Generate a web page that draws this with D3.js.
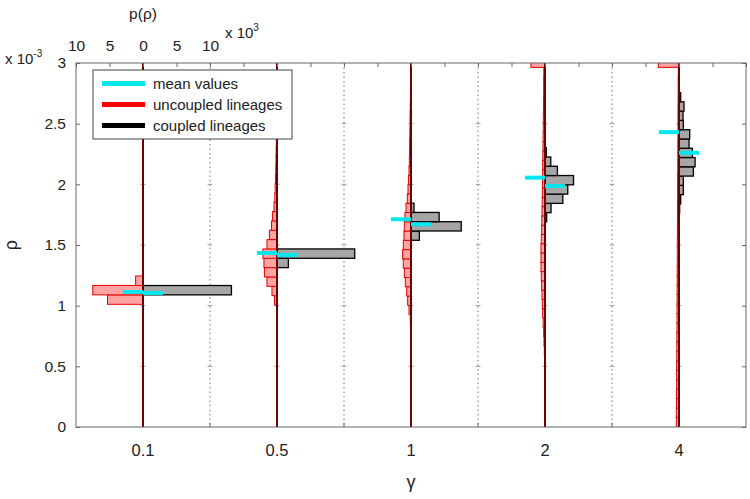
<!DOCTYPE html>
<html>
<head>
<meta charset="utf-8">
<script src="https://cdn.jsdelivr.net/npm/d3@7"></script>
<style>
  body { margin: 0; background: #fff; }
  svg text { font-family: "Liberation Sans", Arial, sans-serif; }
</style>
</head>
<body>
<svg width="750" height="499"></svg>
<script>
// categories on the x axis (gamma)
const categories = ["0.1", "0.5", "1", "2", "4"];
const yTicks = [0, 0.5, 1, 1.5, 2, 2.5, 3];   // rho, x 10^-3
const pTicks = [-10, -5, 0, 5, 10];           // p(rho), x 10^3

// uncoupled lineages (red, drawn to the left), bins in rho x10^-3, counts x10^3
const uncoupledStart = [1.011, 1.0055, 0.85, 0.516, 0.0];
const uncoupledWidth = [0.078, 0.077, 0.0765, 0.0765, 0.078];
const uncoupledCounts = [
  [5.3, 7.5, 1.1],
  [0.38, 0.75, 1.5, 1.88, 1.95, 2.1, 1.5, 1.13, 0.83, 0.68, 0.45, 0.33, 0.27, 0.23, 0.18, 0.15, 0.12, 0.09],
  [0.1, 0.3, 0.5, 0.65, 0.85, 1.0, 1.15, 1.25, 1.15, 1.05, 1.0, 0.9, 0.75, 0.55, 0.45, 0.38, 0.3, 0.25, 0.22, 0.2, 0.17, 0.15, 0.13, 0.1, 0.08],
  [0.05, 0.1, 0.15, 0.2, 0.28, 0.35, 0.4, 0.45, 0.5, 0.55, 0.6, 0.6, 0.6, 0.55, 0.5, 0.48, 0.45, 0.42, 0.4, 0.38,
   0.35, 0.35, 0.32, 0.3, 0.28, 0.26, 0.25, 0.23, 0.22, 0.2, 0.2, 0.18, 2.1],
  [0.4, 0.4, 0.38, 0.38, 0.35, 0.35, 0.35, 0.33, 0.33, 0.32, 0.3, 0.3, 0.3, 0.28, 0.28, 0.27, 0.27, 0.25, 0.25, 0.25,
   0.24, 0.23, 0.22, 0.22, 0.2, 0.2, 0.2, 0.18, 0.18, 0.17, 0.16, 0.15, 0.15, 0.14, 0.13, 0.12, 0.12, 0.1, 3.1]
];

// coupled lineages (gray, drawn to the right)
const coupledStart = [1.089, 1.3135, 1.539, 1.69, 1.762];
const coupledWidth = [0.077, 0.077, 0.0765, 0.0765, 0.0765];
const coupledCounts = [
  [13.2],
  [1.7, 11.6],
  [1.25, 7.5, 4.2, 0.45],
  [0.25, 0.9, 2.66, 3.4, 4.26, 1.85, 0.86, 0.2],
  [0.1, 0.25, 0.65, 0.65, 2.15, 2.4, 2.0, 1.5, 1.6, 0.65, 0.6, 0.75, 0.25]
];

// mean values (cyan)
const meanUncoupled = [1.113, 1.434, 1.712, 2.055, 2.43];
const meanCoupled = [1.104, 1.418, 1.671, 1.986, 2.26];
const meanLength = 3; // x10^3

const svg = d3.select("svg");
const mL = 76, mR = 746, mT = 63, mB = 427;
const txt = "#222";

const x = d3.scaleBand().domain(categories).range([mL, mR]).padding(0);
const y = d3.scaleLinear().domain([0, 3]).range([mB, mT]);
const half = x.bandwidth() / 2;
const p = d3.scaleLinear().domain([0, 10]).range([0, half]);
const center = c => x(c) + half;

svg.append("clipPath").attr("id", "plot")
  .append("rect").attr("x", mL).attr("y", mT).attr("width", mR - mL).attr("height", mB - mT);

// dotted separators
const seps = categories.slice(1).map(c => x(c));
svg.append("g").selectAll("line").data(seps).enter().append("line")
  .attr("x1", d => d).attr("x2", d => d).attr("y1", mT).attr("y2", mB)
  .attr("stroke", "#777").attr("stroke-width", 1).attr("stroke-dasharray", "1.5,3");

// small tick crosses on the separators and center lines
const crossX = seps.concat(categories.map(center));
crossX.forEach(cx => {
  svg.append("g").selectAll("line").data(yTicks.slice(1, -1)).enter().append("line")
    .attr("x1", cx - 2.5).attr("x2", cx + 2.5).attr("y1", d => y(d)).attr("y2", d => y(d))
    .attr("stroke", "#888").attr("stroke-width", 0.8);
});

const plot = svg.append("g").attr("clip-path", "url(#plot)");

function bins(start, width, counts) {
  return counts.map((v, i) => ({ lo: start + i * width, hi: start + (i + 1) * width, v: v }));
}

categories.forEach((c, k) => {
  const cx = center(c);
  const g = plot.append("g");

  g.selectAll("rect.unc").data(bins(uncoupledStart[k], uncoupledWidth[k], uncoupledCounts[k])).enter()
    .append("rect").attr("class", "unc")
    .attr("x", d => cx - p(d.v)).attr("width", d => p(d.v))
    .attr("y", d => y(d.hi)).attr("height", d => y(d.lo) - y(d.hi))
    .attr("fill", "#ffa3a3").attr("stroke", "#e60000").attr("stroke-width", 1);

  g.selectAll("rect.cpl").data(bins(coupledStart[k], coupledWidth[k], coupledCounts[k])).enter()
    .append("rect").attr("class", "cpl")
    .attr("x", cx).attr("width", d => p(d.v))
    .attr("y", d => y(d.hi)).attr("height", d => y(d.lo) - y(d.hi))
    .attr("fill", "#a6a6a6").attr("stroke", "#000").attr("stroke-width", 1.3);

  // center line
  g.append("line").attr("x1", cx).attr("x2", cx).attr("y1", mT).attr("y2", mB)
    .attr("stroke", "#d00000").attr("stroke-width", 2);
  g.append("line").attr("x1", cx).attr("x2", cx).attr("y1", mT).attr("y2", mB)
    .attr("stroke", "#1a0000").attr("stroke-width", 1.1);

  // means
  g.append("line").attr("x1", cx - p(meanLength)).attr("x2", cx)
    .attr("y1", y(meanUncoupled[k])).attr("y2", y(meanUncoupled[k]))
    .attr("stroke", "#00e8ee").attr("stroke-width", 4);
  g.append("line").attr("x1", cx).attr("x2", cx + p(meanLength))
    .attr("y1", y(meanCoupled[k])).attr("y2", y(meanCoupled[k]))
    .attr("stroke", "#00e8ee").attr("stroke-width", 4);
});

// frame
svg.append("rect").attr("x", mL).attr("y", mT).attr("width", mR - mL).attr("height", mB - mT)
  .attr("fill", "none").attr("stroke", "#666").attr("stroke-width", 1);

function styleAxis(ax, size) {
  ax.attr("font-family", null).attr("font-size", null);
  ax.select(".domain").remove();
  ax.selectAll(".tick line").attr("stroke", "#666");
  ax.selectAll(".tick text").attr("font-size", size).attr("fill", txt);
}

// left axis
const yAxis = svg.append("g").attr("transform", `translate(${mL},0)`)
  .call(d3.axisLeft(y).tickValues(yTicks).tickFormat(d3.format("")).tickSizeInner(-4).tickSizeOuter(0).tickPadding(10));
styleAxis(yAxis, 15.5);

// right axis ticks
const yAxisR = svg.append("g").attr("transform", `translate(${mR},0)`)
  .call(d3.axisRight(y).tickValues(yTicks).tickFormat("").tickSizeInner(-4).tickSizeOuter(0));
styleAxis(yAxisR, 15);

// bottom axis
const xAxis = svg.append("g").attr("transform", `translate(0,${mB})`)
  .call(d3.axisBottom(x).tickSizeInner(0).tickSizeOuter(0).tickPadding(17));
styleAxis(xAxis, 16.5);
svg.append("g").selectAll("line").data(seps).enter().append("line")
  .attr("x1", d => d).attr("x2", d => d).attr("y1", mB).attr("y2", mB - 4)
  .attr("stroke", "#666");

// top axis: labelled for the first category, ticks on all
categories.forEach((c, k) => {
  const cx = center(c);
  const pTop = d3.scaleLinear().domain([-10, 10]).range([cx - half, cx + half]);
  const ax = svg.append("g").attr("transform", `translate(0,${mT})`)
    .call(d3.axisTop(pTop).tickValues(pTicks)
      .tickFormat(k === 0 ? (d => Math.abs(d)) : "")
      .tickSizeInner(-4).tickSizeOuter(0).tickPadding(12));
  styleAxis(ax, 15.5);
});

// exponent labels
const e1 = svg.append("text").attr("x", 5).attr("y", 64).attr("font-size", 15).attr("fill", txt);
e1.append("tspan").text("x 10");
e1.append("tspan").attr("dy", -7).attr("font-size", 10).text("-3");

const e2 = svg.append("text").attr("x", 225).attr("y", 38).attr("font-size", 15).attr("fill", txt);
e2.append("tspan").text("x 10");
e2.append("tspan").attr("dy", -7).attr("font-size", 10).text("3");

// axis titles
svg.append("text").attr("x", center(categories[0])).attr("y", 19).attr("text-anchor", "middle")
  .attr("font-size", 15.5).attr("fill", txt).text("p(ρ)");
svg.append("text").attr("transform", `translate(17,${(mT + mB) / 2}) rotate(-90)`)
  .attr("text-anchor", "middle").attr("font-size", 18).attr("fill", txt).text("ρ");
svg.append("text").attr("x", (mL + mR) / 2).attr("y", 488).attr("text-anchor", "middle")
  .attr("font-size", 18).attr("fill", txt).text("γ");

// legend
const legendItems = ["mean values", "uncoupled lineages", "coupled lineages"];
const legendColors = ["#00e8ee", "#ff0000", "#000000"];
const lg = svg.append("g");
lg.append("rect").attr("x", 93).attr("y", 70).attr("width", 199).attr("height", 69)
  .attr("fill", "#fff").attr("stroke", "#444").attr("stroke-width", 1);
lg.selectAll("line").data(legendItems).enter().append("line")
  .attr("x1", 102).attr("x2", 145)
  .attr("y1", (d, i) => 83.5 + i * 21).attr("y2", (d, i) => 83.5 + i * 21)
  .attr("stroke", (d, i) => legendColors[i]).attr("stroke-width", 5);
lg.selectAll("text").data(legendItems).enter().append("text")
  .attr("x", 153).attr("y", (d, i) => 89 + i * 21)
  .attr("font-size", 15).attr("fill", txt).text(d => d);
</script>
</body>
</html>
